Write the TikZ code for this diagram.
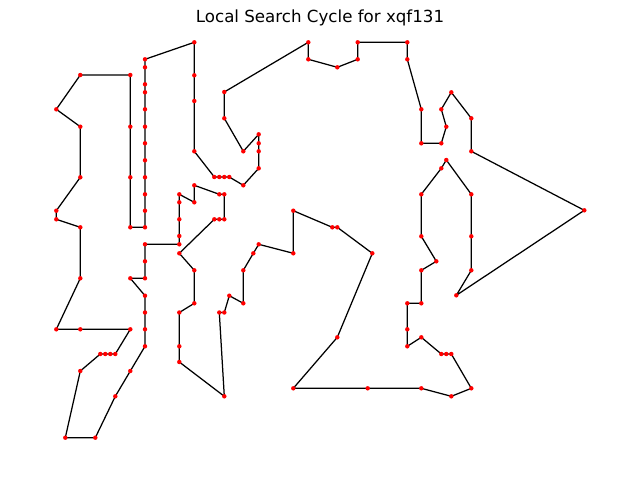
\documentclass[tikz,border=0pt]{standalone}
\usepackage{fontspec}
\setmainfont{DejaVu Sans}
\begin{document}
\begin{tikzpicture}[x=0.72pt,y=-0.72pt,
  tour/.style={draw=black,line width=0.9pt,line join=round},
  citydot/.style={fill=red},
  titletext/.style={font=\fontsize{12}{14}\selectfont,inner sep=0pt}]
\useasboundingbox (0,0) rectangle (640,480);
\node[titletext] (title) at (320,18) {Local Search Cycle for xqf131};
\foreach \x/\y [count=\i] in {
145/59.3,145/67.3,145/84.3,145/92.3,145/109.3,145/126.7,145/143.3,145/160.3,145/177.3,145/194.3,
145/210.7,145/227.3,130.3/227.3,130.3/177.3,130.3/126.7,130.3/75,80.3/75,56.3/109.3,80.3/126.7,80.3/177.3,
56.3/210.7,56.3/219.3,80.3/227.3,80.3/278.3,56.3/329.3,80.3/329.3,130.3/329.3,115.3/354,110.3/354,105.3/354,
100.3/354,80.3/371,65.3/437.7,95.3/437.7,115.3/396.3,130.3/371,145/346.3,145/329.3,145/312.5,145/295.7,
130.3/278.3,145/278.3,145/261.3,145/244.3,179.3/244.3,179.3/236,179.3/219.3,179.3/202.3,179.3/194.3,194.3/202.3,
194.3/185.3,219.3/194.3,224.3/194.3,224.3/219.3,219.3/219.3,214.3/219.3,179.3/253.3,194.3/270.3,194.3/303.3,179.3/312.5,
179.3/346.3,179.3/362,224.3/396.3,219.3/312.5,224.3/312.5,229.3/295.7,243.3/303.3,243.3/270.3,253.3/253.3,258.7/244.3,
293.3/253.3,293.3/210.7,332.3/227.3,337.3/227.3,372.3/253.3,337.3/337.3,293.3/388.3,367.7/388.3,421.3/388.3,451.3/396.3,
471.3/388.3,451.3/354,446.3/354,441.3/354,421.3/337.3,407.3/346.3,407.3/329.3,407.3/303.3,421.3/303.3,421.3/270.3,
436.3/261.3,421.3/236.3,421.3/194.3,441.3/168.3,446.3/160,471.3/194.3,471.3/236.3,471.3/270.3,456.3/295.3,584.3/210.3,
471.3/151.3,471.3/118.3,451.3/92.3,441.3/109.3,446.3/126.7,441.3/143.3,421.3/143.3,421.3/109.3,407.3/59.3,407.3/42.3,
357.7/42.3,357.7/59.3,337.3/67.3,308.3/59.3,308.3/42.3,224.3/92,224.3/118.3,243.3/151.3,258.7/134.3,258.7/143.3,
258.7/151.3,258.7/168.3,243.3/185.3,229.3/177,224.3/177,219.3/177,214.3/177,194.3/151.3,194.3/101,194.3/75.3,
194.3/42.3}
  \coordinate (p\i) at (\x,\y);
\draw[tour] (p1) \foreach \i in {2,...,131} { -- (p\i) } -- cycle;
\foreach \i in {1,...,131} \fill[citydot] (p\i) circle (1.6pt);
\end{tikzpicture}
\end{document}
